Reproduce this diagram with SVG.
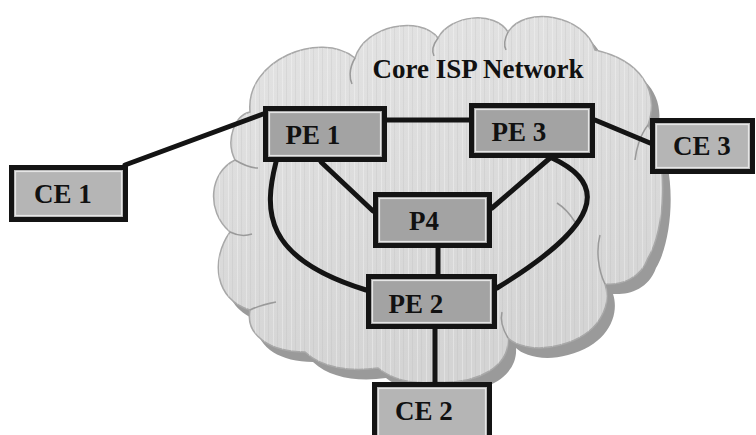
<svg xmlns="http://www.w3.org/2000/svg" width="756" height="435" viewBox="0 0 756 435">
  <style>
    .box { stroke: #141414; stroke-width: 5; }
    .pe { fill: #a3a3a3; }
    .ce { fill: #b5b5b5; }
    .inner { fill: none; stroke: #e6e6e6; stroke-width: 1.2; }
    .lbl { font-family: 'Liberation Serif', 'DejaVu Serif', serif; font-weight: bold; font-size: 27px; fill: #111; text-anchor: middle; }
    .link { fill: none; stroke: #141414; stroke-width: 5; stroke-linecap: round; }
    .lobe { fill: none; stroke: #9a9a9a; stroke-width: 1.5; }
  </style>
  <defs>
    <path id="cloudShape" d="M 250 112 C 245 60, 320 30, 355 58 C 365 25, 420 15, 438 38 C 450 15, 495 10, 508 32 C 525 5, 585 15, 595 50 C 640 60, 660 90, 648 125 C 670 160, 665 230, 648 258 C 640 280, 620 285, 605 284 C 612 305, 600 335, 560 345 C 535 352, 515 345, 508 338 C 510 365, 480 385, 435 382 C 410 385, 390 378, 378 368 C 350 372, 322 368, 305 352 C 270 352, 245 335, 250 310 C 215 300, 210 260, 230 232 C 205 210, 210 172, 235 160 C 225 140, 235 115, 250 112 Z"/>
    <linearGradient id="cloudGrad" x1="0" y1="0" x2="0.3" y2="1">
      <stop offset="0" stop-color="#e4e4e4"/>
      <stop offset="1" stop-color="#d4d4d4"/>
    </linearGradient>
    <pattern id="streaks" width="9" height="20" patternUnits="userSpaceOnUse">
      <rect x="3" y="0" width="1" height="20" fill="#ffffff" opacity="0.3"/>
      <rect x="7" y="0" width="1" height="20" fill="#b0b0b0" opacity="0.2"/>
    </pattern>
  </defs>

  <rect width="756" height="435" fill="#ffffff"/>

  <g id="cloud">
    <use href="#cloudShape" transform="translate(8,10)" fill="#9a9a9a"/>
    <use href="#cloudShape" fill="url(#cloudGrad)" stroke="#a8a8a8" stroke-width="1.5"/>
    <use href="#cloudShape" fill="url(#streaks)"/>
    <path class="lobe" d="M 355 58 C 348 70, 350 80, 352 84"/>
    <path class="lobe" d="M 438 38 C 432 46, 432 52, 434 56"/>
    <path class="lobe" d="M 508 32 C 504 40, 504 46, 506 50"/>
    <path class="lobe" d="M 235 160 C 245 166, 252 168, 258 168"/>
    <path class="lobe" d="M 230 232 C 238 236, 246 236, 252 234"/>
    <path class="lobe" d="M 250 310 C 258 306, 266 304, 276 302"/>
    <path class="lobe" d="M 605 284 C 598 270, 596 250, 600 235"/>
    <path class="lobe" d="M 508 338 C 502 328, 500 320, 502 312"/>
    <path class="lobe" d="M 557 203 C 565 208, 570 214, 575 222"/>
    <path class="lobe" d="M 648 125 C 640 135, 636 150, 635 160"/>
    <text class="lbl" x="478" y="78" font-family="Liberation Serif, serif">Core ISP Network</text>
  </g>

  <g id="connectors">
    <line class="link" x1="125" y1="165" x2="263" y2="114"/>
    <line class="link" x1="387" y1="120" x2="469" y2="120"/>
    <line class="link" x1="595" y1="120" x2="650" y2="143"/>
    <line class="link" x1="321" y1="162" x2="373" y2="211"/>
    <line class="link" x1="550" y1="158" x2="492" y2="208"/>
    <path class="link" d="M 276 162 C 264 210, 262 258, 366 290"/>
    <path class="link" d="M 552 158 C 610 185, 600 225, 497 288"/>
    <line class="link" x1="438" y1="248" x2="438" y2="274"/>
    <line class="link" x1="435" y1="328" x2="435" y2="382"/>
  </g>

  <g id="CE1">
    <rect class="box ce" x="11.5" y="167.5" width="114" height="52"/>
    <rect class="inner" x="15.5" y="171.5" width="106" height="44"/>
    <text class="lbl" x="63" y="203" font-family="Liberation Serif, serif">CE 1</text>
  </g>
  <g id="PE1">
    <rect class="box pe" x="265.5" y="108.5" width="119" height="51"/>
    <rect class="inner" x="269.5" y="112.5" width="111" height="43"/>
    <text class="lbl" x="313" y="144" font-family="Liberation Serif, serif">PE 1</text>
  </g>
  <g id="PE3">
    <rect class="box pe" x="471.5" y="105.5" width="121" height="50"/>
    <rect class="inner" x="475.5" y="109.5" width="113" height="42"/>
    <text class="lbl" x="519" y="141" font-family="Liberation Serif, serif">PE 3</text>
  </g>
  <g id="CE3">
    <rect class="box ce" x="652.5" y="120.5" width="100" height="51"/>
    <rect class="inner" x="656.5" y="124.5" width="92" height="43"/>
    <text class="lbl" x="702" y="155" font-family="Liberation Serif, serif">CE 3</text>
  </g>
  <g id="P4">
    <rect class="box pe" x="375.5" y="194.5" width="114" height="51"/>
    <rect class="inner" x="379.5" y="198.5" width="106" height="43"/>
    <text class="lbl" x="424" y="230" font-family="Liberation Serif, serif">P4</text>
  </g>
  <g id="PE2">
    <rect class="box pe" x="368.5" y="276.5" width="126" height="50"/>
    <rect class="inner" x="372.5" y="280.5" width="118" height="42"/>
    <text class="lbl" x="416" y="313" font-family="Liberation Serif, serif">PE 2</text>
  </g>
  <g id="CE2">
    <rect class="box ce" x="374.5" y="384.5" width="115" height="56"/>
    <rect class="inner" x="378.5" y="388.5" width="107" height="48"/>
    <text class="lbl" x="424" y="420" font-family="Liberation Serif, serif">CE 2</text>
  </g>
</svg>
